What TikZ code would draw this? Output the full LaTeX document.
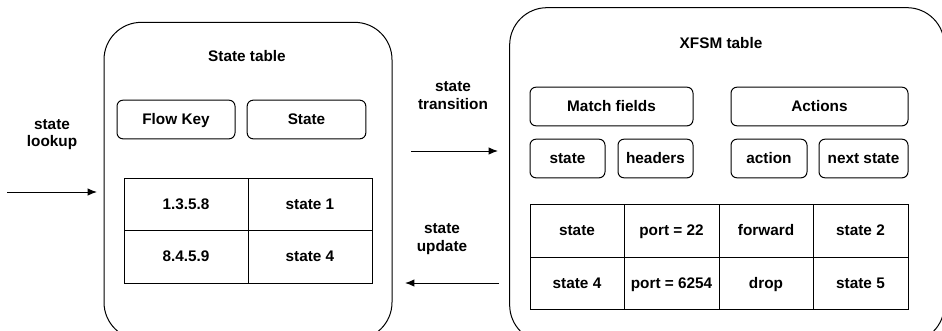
\documentclass[tikz,border=0pt]{standalone}
\usepackage{fontspec}
\setmainfont{Liberation Sans}
\usetikzlibrary{arrows.meta}
\begin{document}
\begin{tikzpicture}[x=0.75pt,y=-0.75pt,
  every node/.style={font=\bfseries\fontsize{11.5}{13}\selectfont, inner sep=0pt},
  fixt/.style={text height=8.2pt, text depth=0.6pt},
  bigbox/.style={draw, line width=0.75pt, rounded corners=28pt, fill=none},
  hdrbox/.style={draw, line width=0.75pt, rounded corners=4.5pt, fixt},
  cell/.style={draw, line width=0.75pt, fixt},
  lbl/.style={align=center},
  conn/.style={line width=0.75pt, -{Latex[length=7pt,width=5.5pt]}}]
\useasboundingbox (0,0) rectangle (942,330);
\begin{scope}
\clip (0,0) rectangle (942,330);
\node[bigbox, minimum width=216pt, minimum height=238pt] (stbox) at (248,181) {};
\node[bigbox, minimum width=326pt, minimum height=251pt] (xbox) at (727,175) {};
\end{scope}
\node[fixt] (sttitle) at (247,56) {State table};
\node[hdrbox, minimum width=88.5pt, minimum height=29pt] (flowkey) at (176,119.5) {Flow Key};
\node[hdrbox, minimum width=89pt, minimum height=29pt] (statehdr) at (306.5,119.5) {State};
% left table
\node[cell, minimum width=93pt, minimum height=39pt] (c11) at (186,204) {1.3.5.8};
\node[cell, minimum width=93pt, minimum height=39pt] (c12) at (310,204) {state 1};
\node[cell, minimum width=93pt, minimum height=39.75pt] (c21) at (186,256.5) {8.4.5.9};
\node[cell, minimum width=93pt, minimum height=39.75pt] (c22) at (310,256.5) {state 4};
% right
\node[fixt] (xtitle) at (721,43) {XFSM table};
\node[hdrbox, minimum width=122.25pt, minimum height=29pt] (match) at (611.5,106.5) {Match fields};
\node[hdrbox, minimum width=132.75pt, minimum height=29pt] (actions) at (819.5,106.5) {Actions};
\node[hdrbox, minimum width=56.25pt, minimum height=29pt] (mstate) at (567.5,158.5) {state};
\node[hdrbox, minimum width=56.25pt, minimum height=29pt] (mhead) at (655.5,158.5) {headers};
\node[hdrbox, minimum width=57pt, minimum height=29pt] (aact) at (769,158.5) {action};
\node[hdrbox, minimum width=66.75pt, minimum height=29pt] (anext) at (863.5,158.5) {next state};
% right table
\node[cell, minimum width=70.5pt, minimum height=39.75pt] (r11) at (577,230.5) {state};
\node[cell, minimum width=71.25pt, minimum height=39.75pt] (r12) at (671.5,230.5) {port = 22};
\node[cell, minimum width=70.5pt, minimum height=39.75pt] (r13) at (766,230.5) {forward};
\node[cell, minimum width=71.25pt, minimum height=39.75pt] (r14) at (860.5,230.5) {state 2};
\node[cell, minimum width=70.5pt, minimum height=39pt] (r21) at (577,283) {state 4};
\node[cell, minimum width=71.25pt, minimum height=39pt] (r22) at (671.5,283) {port = 6254};
\node[cell, minimum width=70.5pt, minimum height=39pt] (r23) at (766,283) {drop};
\node[cell, minimum width=71.25pt, minimum height=39pt] (r24) at (860.5,283) {state 5};
% labels
\node[lbl] (lookup) at (52,134.5) {state\\lookup};
\node[lbl] (trans) at (453,95.5) {state\\transition};
\node[lbl] (update) at (442,239) {state\\update};
% arrows
\coordinate (inA) at (7,192);
\coordinate (inB) at (97,192);
\coordinate (trA) at (411,151);
\coordinate (trB) at (498,151);
\coordinate (upA) at (499,283);
\coordinate (upB) at (405,283);
\draw[conn] (inA) -- (inB);
\draw[conn] (trA) -- (trB);
\draw[conn] (upA) -- (upB);
\end{tikzpicture}
\end{document}
